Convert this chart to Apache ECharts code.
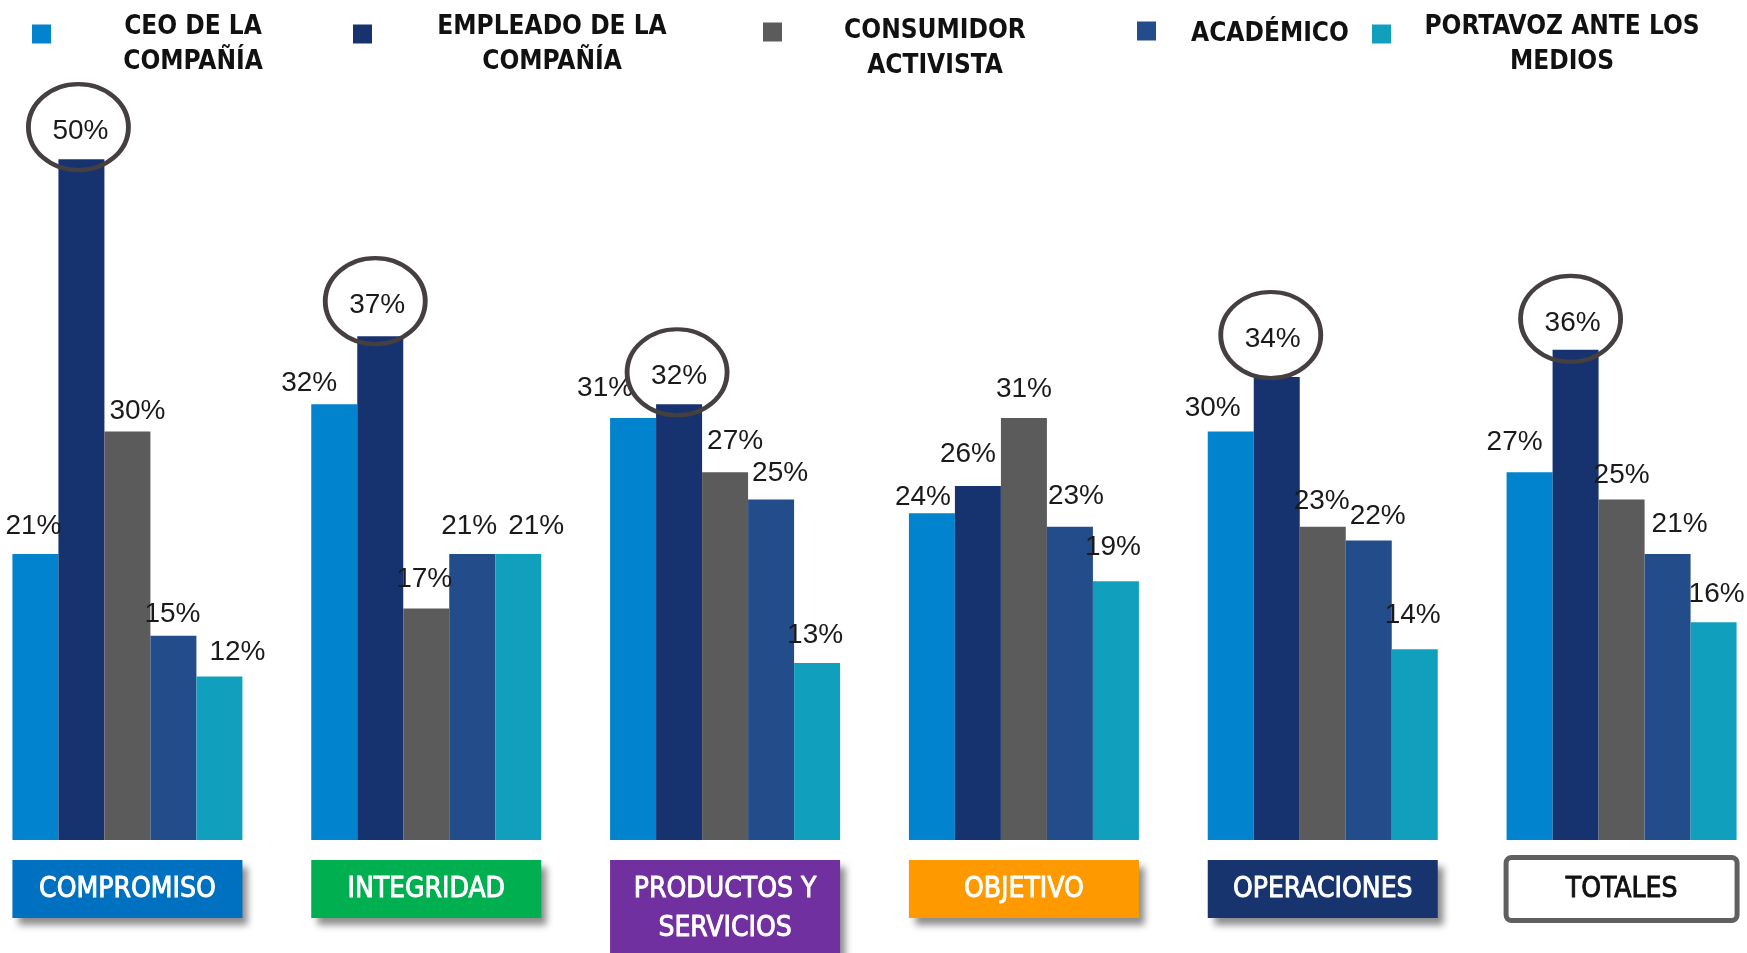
<!DOCTYPE html>
<html>
<head>
<meta charset="utf-8">
<script src="https://cdn.jsdelivr.net/npm/echarts@6/dist/echarts.min.js"></script>
<style>
  html, body { margin: 0; padding: 0; background: #ffffff; }
  #chart { width: 1747px; height: 953px; }
</style>
</head>
<body>
<div id="chart"></div>
<script>
// ---- data ----
const categories = ['COMPROMISO', 'INTEGRIDAD', 'PRODUCTOS Y\nSERVICIOS', 'OBJETIVO', 'OPERACIONES', 'TOTALES'];
const seriesNames = ['CEO DE LA COMPAÑÍA', 'EMPLEADO DE LA COMPAÑÍA', 'CONSUMIDOR ACTIVISTA', 'ACADÉMICO', 'PORTAVOZ ANTE LOS MEDIOS'];
const legendLines = [['CEO DE LA', 'COMPAÑÍA'], ['EMPLEADO DE LA', 'COMPAÑÍA'], ['CONSUMIDOR', 'ACTIVISTA'], ['ACADÉMICO'], ['PORTAVOZ ANTE LOS', 'MEDIOS']];
const ceo        = [21, 32, 31, 24, 30, 27];
const empleado   = [50, 37, 32, 26, 34, 36];
const consumidor = [30, 17, 27, 31, 23, 25];
const academico  = [15, 21, 25, 23, 22, 21];
const portavoz   = [12, 21, 13, 19, 14, 16];
// categories whose EMPLEADO value is ringed
const ringed = [true, true, true, false, true, true];

// ---- styling ----
const values = [ceo, empleado, consumidor, academico, portavoz];
const barColors = ['#0283CD', '#17336F', '#5B5B5B', '#234C8B', '#10A0BE'];
const BAR_W = 46;
const NUM_FONT = "'Liberation Sans', Arial, sans-serif";
const HEAD_FONT = "'DejaVu Sans Condensed', 'DejaVu Sans', sans-serif";
const BOX_FONT = "'Liberation Sans Narrow', 'DejaVu Sans Condensed', 'Roboto', sans-serif";

// small per-label nudges [dx, dy] (series x category)
const labelNudge = [
  [[-2, 0], [-25, 7], [-28, -2], [-9, 12], [-18, 5], [-15, -2]],
  [[-1, 0], [-3, -3], [0, 0], [-10, -4], [-4, -10], [-3, 1]],
  [[10, 8], [-2, -1], [10, -3], [0, -1], [-1, 2], [0, 4]],
  [[-1, 7], [-3, 0], [9, 2], [6, -3], [9, 4], [12, -2]],
  [[18, 4], [18, 0], [-2, 0], [-3, -6], [-2, -6], [3, 0]]
];

// category header boxes
const boxShadow = { shadowColor: 'rgba(0,0,0,0.45)', shadowBlur: 7, shadowOffsetX: 6, shadowOffsetY: 7 };
const whiteText = { color: '#ffffff', textBorderColor: '#ffffff', textBorderWidth: 0.9 };
const boxStyles = [
  Object.assign({ backgroundColor: '#0070C0' }, whiteText, boxShadow),
  Object.assign({ backgroundColor: '#00B050' }, whiteText, boxShadow),
  Object.assign({ backgroundColor: '#7030A0' }, whiteText, boxShadow),
  Object.assign({ backgroundColor: '#FF9900' }, whiteText, boxShadow),
  Object.assign({ backgroundColor: '#17346F' }, whiteText, boxShadow),
  { backgroundColor: '#ffffff', color: '#111111', textBorderColor: '#111111', textBorderWidth: 0.9,
    borderColor: '#606060', borderWidth: 5, borderRadius: 3, width: 226 }
];

// legend blocks: icon left edge, text block width, top padding, layout top
const legendLayout = [
  { left: 32,   width: 274, pad: 21, top: 14 },
  { left: 353,  width: 350, pad: 21, top: 14 },
  { left: 763,  width: 296, pad: 34, top: 18.5 },
  { left: 1137, width: 218, pad: 7,  top: 21.5 },
  { left: 1372, width: 332, pad: 21, top: 14 }
];

const legends = seriesNames.map((name, s) => ({
  data: [name],
  left: legendLayout[s].left,
  top: legendLayout[s].top,
  padding: 0,
  icon: 'rect',
  itemWidth: 19,
  itemHeight: 19,
  selectedMode: false,
  formatter: () => legendLines[s].map(l => '{t|' + l + '}').join('\n'),
  textStyle: {
    padding: [legendLayout[s].pad, 0, 0, 0],
    rich: {
      t: {
        width: legendLayout[s].width,
        align: 'center',
        fontFamily: HEAD_FONT,
        fontWeight: 'bold',
        fontSize: 26,
        lineHeight: 35,
        color: '#111111'
      }
    }
  }
}));

const barSeries = values.map((vals, s) => ({
  type: 'bar',
  name: seriesNames[s],
  barWidth: BAR_W,
  barGap: '0%',
  itemStyle: { color: barColors[s] },
  label: {
    show: true,
    position: 'top',
    distance: 14,
    formatter: '{c}%',
    fontFamily: NUM_FONT,
    fontSize: 28,
    lineHeight: 28,
    color: '#1a1a1a'
  },
  emphasis: { disabled: true },
  data: vals.map((v, i) => ({ value: v, label: { offset: labelNudge[s][i] } }))
}));

// rings around the highlighted EMPLEADO labels
const ringData = [];
empleado.forEach((v, i) => {
  if (!ringed[i]) return;
  const n = labelNudge[1][i];
  ringData.push({ value: [i, v], symbolOffset: [-BAR_W + n[0] - 2, -28 + n[1] - 4] });
});

const ringSeries = {
  type: 'scatter',
  name: 'ring',
  silent: true,
  z: 5,
  symbol: 'circle',
  symbolSize: [100, 86],
  itemStyle: { color: 'rgba(0,0,0,0)', borderColor: '#453F3F', borderWidth: 4.5, opacity: 1 },
  emphasis: { disabled: true },
  data: ringData
};

const chart = echarts.init(document.getElementById('chart'), null, { renderer: 'canvas' });
chart.setOption({
  animation: false,
  backgroundColor: '#ffffff',
  legend: legends,
  grid: { left: -22, right: -24, top: 23, bottom: 113, outerBoundsMode: 'none', containLabel: false },
  xAxis: {
    type: 'category',
    data: categories.map((c, i) => ({ value: c, textStyle: boxStyles[i] })),
    axisLine: { show: false },
    axisTick: { show: false },
    splitLine: { show: false },
    axisLabel: {
      interval: 0,
      margin: 20,
      fontFamily: BOX_FONT,
      fontSize: 28,
      lineHeight: 39,
      width: 230,
      padding: [10, 0, 9, 0],
      align: 'center',
      color: '#ffffff'
    }
  },
  yAxis: { type: 'value', min: 0, max: 60, show: false, splitLine: { show: false } },
  series: barSeries.concat([ringSeries])
});
</script>
</body>
</html>
